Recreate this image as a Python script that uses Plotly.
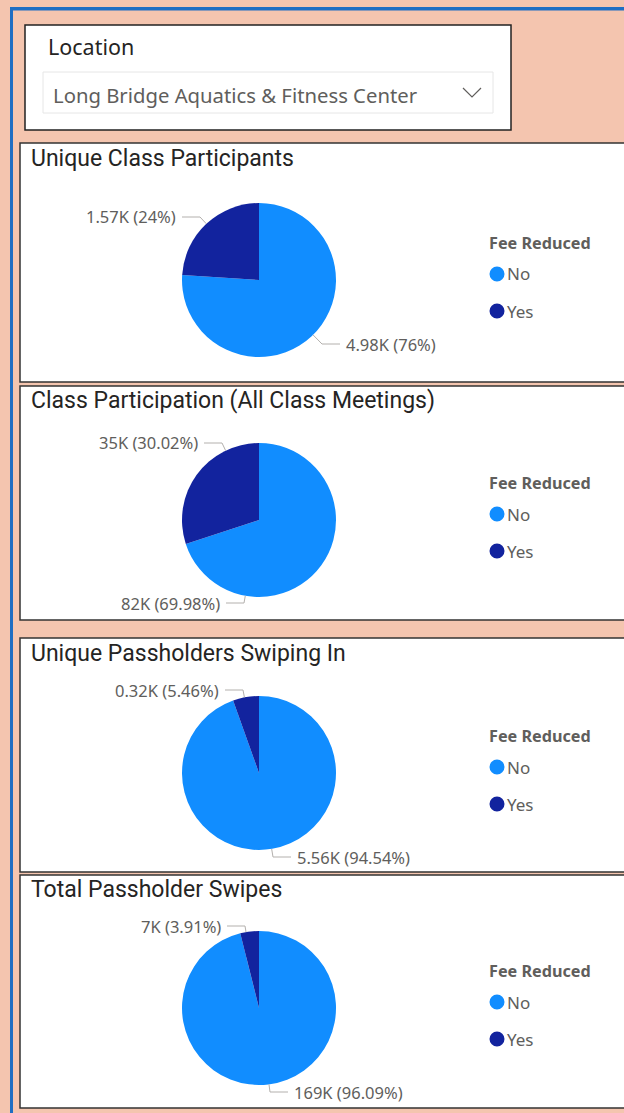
import math
import plotly.graph_objects as go

# ---------------- data ----------------
chart_titles = ["Unique Class Participants",
                "Class Participation (All Class Meetings)",
                "Unique Passholders Swiping In",
                "Total Passholder Swipes"]
categories = ["No", "Yes"]
values_unique_class = [4980, 1570]
values_class_participation = [82060, 35200]
values_unique_passholders = [5560, 321]
values_total_swipes = [169000, 6877]
all_values = [values_unique_class, values_class_participation,
              values_unique_passholders, values_total_swipes]
legend_title = "Fee Reduced"
slicer_title = "Location"
slicer_value = "Long Bridge Aquatics & Fitness Center"

# number formats per chart: (K decimals, percent decimals)
formats = [(2, 0), (0, 2), (2, 2), (0, 2)]

# ---------------- layout / style ----------------
W, H = 624, 1113
COL_NO, COL_YES = "#118DFF", "#12239E"
PEACH = "#F4C5AF"
BLUE = "#1F6EC3"
GRAY_TXT = "#605E5C"
LINE_GRAY = "#B3B0AD"
LABEL_FONT = "Noto Sans"
TITLE_FONT = "Roboto"

panels = [(143, 382), (386, 620), (638, 872), (875, 1108)]
pie_cx = 259
pie_cy = [280, 520, 773, 1008]
R = 77
title_y = [159, 400, 653, 889]
# label layout per chart, per category: (side, dy of label line, dx of elbow from center)
label_layout = [
    [("right", 64, 63), ("left", -63, -59)],
    [("left", 83, -15), ("left", -77, -37)],
    [("right", 84, 14), ("left", -83, -16)],
    [("right", 84, 11), ("left", -82, -14)],
]
LINE_LEN = 18


def px(x):
    return x / W


def py(y):
    return 1 - y / H


fig = go.Figure()
shapes = []
annotations = []


def rect(x0, y0, x1, y1, fill, line_color=None, line_width=0):
    shapes.append(dict(type="rect", xref="paper", yref="paper",
                       x0=px(x0), x1=px(x1), y0=py(y1), y1=py(y0),
                       fillcolor=fill,
                       line=dict(color=line_color or fill, width=line_width),
                       layer="below"))


def text(x, y, s, size, color, family, xanchor="left", bold=False):
    annotations.append(dict(xref="paper", yref="paper", x=px(x), y=py(y),
                            text=f"<b>{s}</b>" if bold else s,
                            showarrow=False, xanchor=xanchor, yanchor="middle",
                            font=dict(size=size, color=color, family=family)))


# outer frame
rect(10, 7, W, 10.5, BLUE)
rect(10, 7, 13, H, BLUE)

# slicer
rect(25, 25, 511, 130, "white", "#222222", 1.5)
rect(43, 72, 493, 113, "white", "#E6E6E6", 1)
text(46, 47, slicer_title, 21.5, "#252423", "Segoe UI, Noto Sans")
text(51, 95, slicer_value, 20.3, GRAY_TXT, "Segoe UI, Noto Sans")
shapes.append(dict(type="path", xref="paper", yref="paper",
                   path=f"M {px(463)} {py(88)} L {px(472)} {py(97)} L {px(481)} {py(88)}",
                   line=dict(color=GRAY_TXT, width=1.2)))

for i, (vals, title) in enumerate(zip(all_values, chart_titles)):
    y0, y1 = panels[i]
    rect(20, y0, W + 20, y1, "white", "#333333", 1.5)
    text(29, title_y[i], title, 23, "#252423", TITLE_FONT)
    cy = pie_cy[i]
    fig.add_trace(go.Pie(
        labels=categories, values=vals, sort=False, direction="clockwise",
        rotation=0, textinfo="none", hoverinfo="label+value+percent",
        marker=dict(colors=[COL_NO, COL_YES], line=dict(width=0)),
        showlegend=False,
        domain=dict(x=[px(pie_cx - R), px(pie_cx + R)],
                    y=[py(cy + R), py(cy - R)])))
    total = sum(vals)
    kdec, pdec = formats[i]
    for j, v in enumerate(vals):
        lab = f"{v / 1000:.{kdec}f}K ({100 * v / total:.{pdec}f}%)"
        side, dy, ex = label_layout[i][j]
        ey = dy
        d = math.hypot(ex, ey)
        rx, ry = R * ex / d, R * ey / d
        sgn = 1 if side == "right" else -1
        lx = ex + sgn * LINE_LEN
        path = (f"M {px(pie_cx + rx)} {py(cy + ry)} L {px(pie_cx + ex)} {py(cy + ey)} "
                f"L {px(pie_cx + lx)} {py(cy + ey)}")
        shapes.append(dict(type="path", xref="paper", yref="paper", path=path,
                           line=dict(color=LINE_GRAY, width=1)))
        text(pie_cx + lx + sgn * 4, cy + ey, lab, 16.5, GRAY_TXT, LABEL_FONT,
             xanchor="left" if side == "right" else "right")
    # legend
    text(487, cy - 37, legend_title, 16.2, GRAY_TXT, LABEL_FONT, bold=True)
    for j, (cat, col) in enumerate(zip(categories, [COL_NO, COL_YES])):
        my = cy - 6 + 37 * j
        shapes.append(dict(type="circle", xref="paper", yref="paper",
                           x0=px(489.5), x1=px(504.5), y0=py(my + 7.5), y1=py(my - 7.5),
                           fillcolor=col, line=dict(width=0)))
        text(505, my, cat, 17, GRAY_TXT, LABEL_FONT)

fig.update_layout(width=W, height=H, margin=dict(l=0, r=0, t=0, b=0),
                  paper_bgcolor=PEACH, plot_bgcolor=PEACH,
                  shapes=shapes, annotations=annotations)
fig.write_html("out.html", config=dict(displayModeBar=False),
               post_script="document.body.style.margin='0';document.body.style.padding='0';"
                           "document.body.style.overflow='hidden';")
